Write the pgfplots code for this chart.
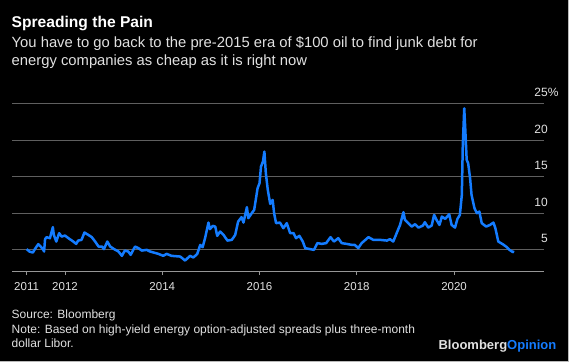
\documentclass[border=0pt]{standalone}
\usepackage{fontspec}
\setmainfont{Liberation Sans}
\usepackage{pgfplots}
\pgfplotsset{compat=1.18}
\definecolor{bblue}{RGB}{20,124,255}
\definecolor{gridgray}{RGB}{95,95,95}
\definecolor{axisgray}{RGB}{150,150,150}
\definecolor{labgray}{RGB}{225,225,225}
\begin{document}
\begin{tikzpicture}[x=1pt,y=1pt]
\useasboundingbox (0,0) rectangle (572,362);
\fill[white] (0,0) rectangle (572,362);
\fill[black] (0,1) rectangle (568,362);
\draw[gray!55, line width=0.8pt] (568,362) -- (568,1) -- (0,1);
\node[anchor=base west, inner sep=0, text=white, font=\fontsize{15.6}{18}\selectfont\bfseries] at (11.5,334.5) {Spreading the Pain};
\node[anchor=base west, inner sep=0, text=labgray, font=\fontsize{14.8}{18}\selectfont] at (11.5,314.5) {You have to go back to the pre-2015 era of \$100 oil to find junk debt for};
\node[anchor=base west, inner sep=0, text=labgray, font=\fontsize{14.8}{18}\selectfont] at (11.5,296.5) {energy companies as cheap as it is right now};
\node[anchor=base west, inner sep=0, text=labgray, font=\fontsize{12}{14}\selectfont] at (11.5,44) {Source: Bloomberg};
\node[anchor=base west, inner sep=0, text=labgray, font=\fontsize{12}{14}\selectfont] at (11.5,29) {Note: Based on high-yield energy option-adjusted spreads plus three-month};
\node[anchor=base west, inner sep=0, text=labgray, font=\fontsize{12}{14}\selectfont] at (11.5,14.5) {dollar Libor.};
\node[anchor=base east, inner sep=0, font=\fontsize{13}{15}\selectfont\bfseries] at (556.5,12.5) {\textcolor{labgray}{Bloomberg}\textcolor{bblue}{Opinion}};
\begin{axis}[
  at={(12pt,91pt)}, anchor=south west,
  scale only axis, width=532pt, height=167pt,
  xmin=2010.91, xmax=2021.85, ymin=2.1, ymax=25,
  axis line style={draw=none},
  xtick={2011.21,2012,2014,2016,2018,2020},
  xticklabels={2011,2012,2014,2016,2018,2020},
  xtick pos=bottom, tick align=outside, major tick length=4pt,
  x tick style={axisgray, line width=0.9pt},
  xticklabel style={text=labgray, font=\fontsize{11.5}{13}\selectfont, yshift=-4pt},
  ytick={5,10,15,20,25},
  yticklabels={5,10,15,20,25\rlap{\%}},
  ytick pos=right, yticklabel pos=right,
  y tick style={draw=none},
  yticklabel style={text=labgray, font=\fontsize{12}{14}\selectfont, anchor=base east, inner xsep=0pt, yshift=7pt},
  ymajorgrids, grid style={gridgray, line width=1pt},
  clip=false,
]
\draw[axisgray, line width=1pt] (rel axis cs:0,0) -- (rel axis cs:1,0);
\addplot[bblue, line width=2.5pt, line join=round] coordinates {
(2011.21,5.10) (2011.27,4.77) (2011.34,4.63) (2011.38,5.10) (2011.45,5.78) (2011.50,5.45) (2011.54,5.14) (2011.57,4.77) (2011.59,6.47) (2011.62,6.74) (2011.69,6.60) (2011.75,8.11) (2011.77,7.05) (2011.82,6.14) (2011.88,7.29) (2011.93,6.82) (2012.00,6.96) (2012.07,6.60) (2012.17,6.14) (2012.23,5.82) (2012.27,6.27) (2012.34,6.37) (2012.40,7.37) (2012.48,7.05) (2012.55,6.74) (2012.62,6.14) (2012.69,5.45) (2012.76,5.45) (2012.80,5.10) (2012.87,6.14) (2012.93,5.45) (2013.01,5.10) (2013.10,4.77) (2013.17,4.18) (2013.23,4.90) (2013.30,4.77) (2013.35,4.32) (2013.44,5.45) (2013.51,5.23) (2013.58,4.90) (2013.68,5.00) (2013.75,4.77) (2013.92,4.45) (2014.02,4.18) (2014.09,4.45) (2014.19,4.18) (2014.37,4.08) (2014.47,3.53) (2014.57,4.18) (2014.64,3.95) (2014.72,4.45) (2014.78,5.68) (2014.83,5.37) (2014.88,6.60) (2014.95,8.74) (2014.98,7.84) (2015.04,8.29) (2015.09,8.19) (2015.13,6.92) (2015.19,7.51) (2015.26,7.05) (2015.34,6.27) (2015.43,6.37) (2015.50,7.05) (2015.56,8.88) (2015.63,9.48) (2015.67,8.74) (2015.74,10.85) (2015.77,9.34) (2015.84,10.03) (2015.89,10.48) (2015.96,13.45) (2016.00,14.14) (2016.03,16.41) (2016.07,17.10) (2016.10,18.47) (2016.13,15.51) (2016.17,13.22) (2016.22,11.30) (2016.27,11.85) (2016.30,10.03) (2016.34,8.66) (2016.42,8.74) (2016.49,7.97) (2016.56,8.66) (2016.63,7.29) (2016.70,7.29) (2016.75,6.60) (2016.82,6.92) (2016.89,6.14) (2016.94,5.23) (2017.04,5.10) (2017.12,5.00) (2017.19,5.92) (2017.28,5.82) (2017.37,5.92) (2017.46,6.74) (2017.53,6.14) (2017.62,6.60) (2017.69,5.92) (2017.79,5.82) (2017.90,5.68) (2017.96,5.68) (2018.03,5.23) (2018.10,5.92) (2018.24,6.74) (2018.34,6.37) (2018.48,6.37) (2018.62,6.27) (2018.68,6.47) (2018.75,6.14) (2018.82,7.29) (2018.89,8.42) (2018.96,10.16) (2018.99,9.11) (2019.06,8.66) (2019.13,8.19) (2019.20,8.52) (2019.27,8.05) (2019.36,8.33) (2019.40,8.79) (2019.47,8.05) (2019.54,8.33) (2019.59,9.79) (2019.64,9.11) (2019.70,8.42) (2019.75,9.56) (2019.82,9.25) (2019.90,9.89) (2019.95,8.42) (2020.02,8.05) (2020.07,9.25) (2020.12,9.79) (2020.16,12.53) (2020.18,19.38) (2020.21,24.41) (2020.23,21.67) (2020.26,17.33) (2020.29,16.88) (2020.33,14.82) (2020.36,12.53) (2020.42,10.71) (2020.47,10.03) (2020.52,10.25) (2020.57,8.66) (2020.66,8.19) (2020.74,8.42) (2020.81,8.74) (2020.85,7.97) (2020.91,6.14) (2021.00,5.78) (2021.07,5.45) (2021.14,5.00) (2021.21,4.69) (2021.22,4.90)
};
\end{axis}
\end{tikzpicture}
\end{document}
